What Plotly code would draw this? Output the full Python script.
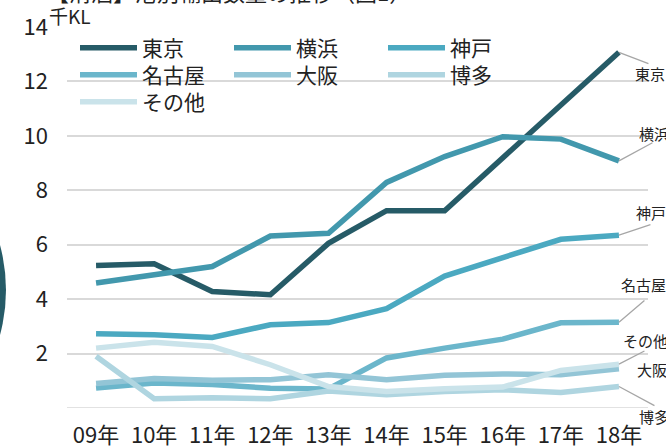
import plotly.graph_objects as go

years = ['09年', '10年', '11年', '12年', '13年', '14年', '15年', '16年', '17年', '18年']
names = ['東京', '横浜', '神戸', '名古屋', '大阪', '博多', 'その他']
tokyo = [5.24, 5.30, 4.28, 4.16, 6.05, 7.25, 7.25, 9.20, 11.15, 13.07]
yokohama = [4.59, 4.92, 5.20, 6.32, 6.42, 8.29, 9.24, 9.97, 9.88, 9.08]
kobe = [2.73, 2.69, 2.59, 3.06, 3.14, 3.65, 4.85, 5.52, 6.20, 6.35]
nagoya = [0.73, 0.92, 0.86, 0.73, 0.70, 1.84, 2.20, 2.53, 3.13, 3.15]
osaka = [0.90, 1.08, 1.02, 1.04, 1.22, 1.04, 1.20, 1.25, 1.22, 1.44]
hakata = [1.90, 0.34, 0.38, 0.34, 0.62, 0.49, 0.61, 0.67, 0.57, 0.79]
others = [2.20, 2.42, 2.26, 1.59, 0.79, 0.61, 0.71, 0.77, 1.38, 1.61]
y_ticks = [2, 4, 6, 8, 10, 12, 14]
unit_label = '千KL'
title_text = '【清酒】港別輸出数量の推移（図1）'

series = [tokyo, yokohama, kobe, nagoya, osaka, hakata, others]
colors = ['#265b67', '#4298ad', '#4ba9c1', '#6bb6cb', '#93c5d6', '#afd5e0', '#cae3ea']

# label placement (pixel offsets from the last point): text shift, leader-line tail
# order: 東京, 横浜, 神戸, 名古屋, 大阪, 博多, その他
label_shift = [(14, -21), (18, 27), (15, 23), (0, 38), (16, -1), (18, -30), (2, 24)]
leader_tail = [(31, 12), (35, -19), (33, -11), (27, -23), None, (37, 20), (27, -14)]

JP = 'Noto Sans CJK JP, sans-serif'
NUM = 'Liberation Sans Narrow, Noto Sans CJK JP, sans-serif'

PLOT_H = 381.0
PLOT_W = 581.0

fig = go.Figure()
legend_ids = ['legend', 'legend2', 'legend3']
for i, (name, vals, col) in enumerate(zip(names, series, colors)):
    fig.add_trace(go.Scatter(
        x=years, y=vals, name=name, mode='lines',
        line=dict(color=col, width=5.5),
        legend=legend_ids[i // 3],
    ))

annotations = []
for name, vals, (dx, dy), tail in zip(names, series, label_shift, leader_tail):
    if tail is not None:
        annotations.append(dict(
            x=years[-1], y=vals[-1], xref='x', yref='y', text=' ',
            font=dict(size=1), showarrow=True, arrowhead=0, arrowwidth=1.3,
            arrowcolor='#a6a6a6', ax=tail[0], ay=tail[1], standoff=0,
            startstandoff=0,
        ))
    annotations.append(dict(
        x=years[-1], y=vals[-1], xref='x', yref='y', text=name,
        showarrow=False, xanchor='left', yanchor='middle',
        xshift=dx, yshift=dy, font=dict(family=JP, size=15, color='#222222'),
    ))

annotations.append(dict(
    x=-20 / PLOT_W, y=1 + 11 / PLOT_H, xref='paper', yref='paper', text=unit_label,
    showarrow=False, xanchor='left', yanchor='middle',
    font=dict(family=NUM, size=19, color='#222222'),
))
annotations.append(dict(
    x=-22 / PLOT_W, y=1 + 18 / PLOT_H, xref='paper', yref='paper', text=title_text,
    showarrow=False, xanchor='left', yanchor='bottom',
    font=dict(family=JP, size=22, color='#222222'),
))

row_centers = [48, 75, 102]
legend_common = dict(
    orientation='h', x=8 / PLOT_W, xanchor='left', yanchor='middle',
    entrywidth=82, entrywidthmode='pixels', itemwidth=57,
    bgcolor='rgba(0,0,0,0)', font=dict(family=JP, size=21, color='#222222'),
    tracegroupgap=0,
)

fig.update_layout(
    width=666, height=448,
    margin=dict(l=67, r=18, t=27, b=40, autoexpand=False),
    paper_bgcolor='white', plot_bgcolor='white',
    showlegend=True,
    legend=dict(legend_common, y=1 - (row_centers[0] - 27) / PLOT_H),
    legend2=dict(legend_common, y=1 - (row_centers[1] - 27) / PLOT_H),
    legend3=dict(legend_common, y=1 - (row_centers[2] - 27) / PLOT_H),
    xaxis=dict(
        type='category', range=[-0.5, 9.5], showgrid=False, zeroline=False,
        showline=False, ticks='', ticklabelstandoff=12, automargin=False,
        tickfont=dict(family=NUM, size=22, color='#222222'),
    ),
    yaxis=dict(
        range=[0, 14], tickvals=y_ticks, showgrid=True, gridcolor='#d9d9d9',
        gridwidth=1.5, zeroline=False, showline=False, ticks='',
        ticklabelstandoff=18, automargin=False,
        tickfont=dict(family=NUM, size=22, color='#222222'),
    ),
    annotations=annotations,
    shapes=[dict(
        type='line', xref='paper', yref='y', x0=0, x1=1, y0=0, y1=0,
        line=dict(color='#d9d9d9', width=1.5), layer='below',
    ), dict(
        type='rect', xref='paper', yref='paper',
        x0=0, x1=(526 - 67) / PLOT_W,
        y0=(408 - 117) / PLOT_H, y1=(408 - 34) / PLOT_H,
        fillcolor='white', line=dict(width=0), layer='between',
    ), dict(
        type='circle', xref='paper', yref='paper',
        x0=(-338 - 67) / PLOT_W, x1=(6 - 67) / PLOT_W,
        y0=(408 - 462) / PLOT_H, y1=(408 - 118) / PLOT_H,
        fillcolor='#265b67', line=dict(width=0), layer='above',
    )],
)

fig.write_html('out.html', config={'displayModeBar': False},
               post_script="document.body.style.margin='0';")
